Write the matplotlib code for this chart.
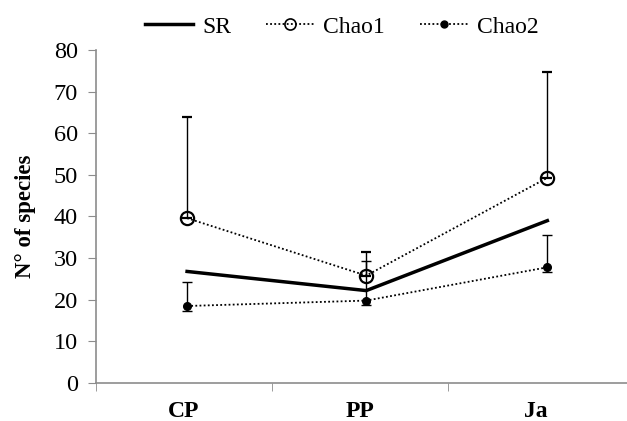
import matplotlib.pyplot as plt
from matplotlib.lines import Line2D

# site categories and where the points sit on the category axis
sites = ['CP', 'PP', 'Ja']
site_pos = [0.018, 1.037, 2.067]

# observed species richness
sr = [26.8, 22.2, 39.0]

# Chao1 estimate with upper error only
chao1 = [39.6, 25.8, 49.3]
chao1_up = [24.4, 5.6, 25.4]

# Chao2 estimate with small lower and larger upper error
chao2 = [18.5, 19.8, 27.8]
chao2_lo = [1.3, 1.1, 1.1]
chao2_up = [5.7, 9.4, 7.8]

plt.rcParams['font.family'] = ['Liberation Serif', 'DejaVu Serif']

fig = plt.figure(figsize=(6.27, 4.21), dpi=100)
ax = fig.add_axes([96/627, 38/421, 531/627, 333/421])

dots = (0, (1, 1.3))
ax.plot(site_pos, sr, color='black', lw=2.5, zorder=3)
ax.errorbar(site_pos, chao1, yerr=[[0, 0, 0], chao1_up], color='black', lw=1.3, ls=dots,
            marker='o', ms=9.5, mfc='none', mec='black', mew=1.6,
            ecolor='black', elinewidth=1, capsize=3.8, capthick=1, zorder=4)
ax.errorbar(site_pos, chao2, yerr=[chao2_lo, chao2_up], color='black', lw=1.3, ls=dots,
            marker='o', ms=5.5, mfc='black', mec='black',
            ecolor='black', elinewidth=1, capsize=3.8, capthick=1, zorder=4)

ax.set_ylim(0, 80)
ax.set_xlim(-0.5, 2.52)
ax.set_yticks(range(0, 81, 10))
ax.set_xticks([0, 1, 2])
ax.set_xticklabels(sites, fontsize=17, fontweight='bold')
ax.set_xticks([-0.5, 0.5, 1.5], minor=True)
ax.tick_params(axis='x', which='major', length=0, pad=13)
ax.tick_params(axis='x', which='minor', length=6, color='#8c8c8c', direction='out')
ax.tick_params(axis='y', labelsize=17.5, length=6, color='#8c8c8c', direction='out', pad=7)
ax.set_ylabel('N° of species', fontsize=16.5, fontweight='bold', labelpad=13)

for side in ['top', 'right']:
    ax.spines[side].set_visible(False)
for side in ['left', 'bottom']:
    ax.spines[side].set_color('#8c8c8c')
    ax.spines[side].set_linewidth(1.2)

# legend handles without the error bars
handles = [
    Line2D([], [], color='black', lw=2.5),
    Line2D([], [], color='black', lw=1.3, ls=dots, marker='o', ms=8, mfc='none', mew=1.2),
    Line2D([], [], color='black', lw=1.3, ls=dots, marker='o', ms=5, mfc='black'),
]
ax.legend(handles, ['SR', 'Chao1', 'Chao2'], loc='center',
          bbox_to_anchor=(342/627, 1 - 27/421), bbox_transform=fig.transFigure,
          ncol=3, frameon=False, fontsize=17, handlelength=2.0, columnspacing=1.5,
          handletextpad=0.4)

fig.savefig('out.png', dpi=100)
